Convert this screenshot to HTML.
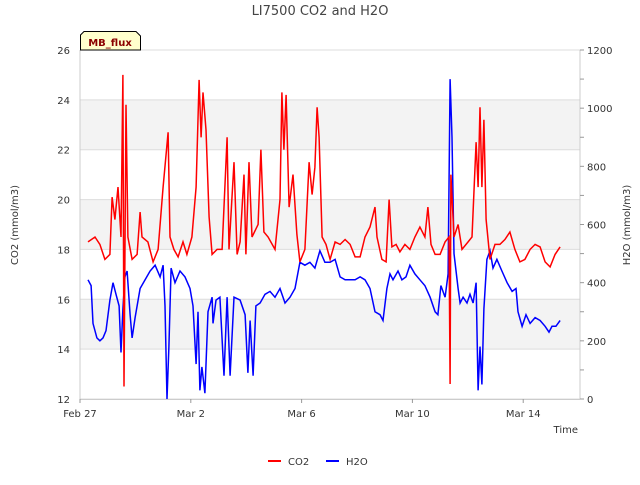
<!DOCTYPE html>
<html><head><meta charset="utf-8"><style>
body{margin:0;background:#fff;}
text{font-family:"DejaVu Sans","Liberation Sans",sans-serif;}
</style></head><body>
<svg id="chart" width="640" height="480" xmlns="http://www.w3.org/2000/svg">
<g id="grid"></g>
<g id="axes"></g>
<g id="series"></g>
<text x="320" y="15" text-anchor="middle" font-size="13" fill="#444">LI7500 CO2 and H2O</text>
<text transform="translate(18,225) rotate(-90)" text-anchor="middle" font-size="10" fill="#333">CO2 (mmol/m3)</text>
<text transform="translate(630,225) rotate(-90)" text-anchor="middle" font-size="10" fill="#333">H2O (mmol/m3)</text>
<text x="578" y="433" text-anchor="end" font-size="10" fill="#333">Time</text>
<g>
<path d="M80.5,50 L80.5,35 L84,31.5 L136,31.5 L140.5,36 L140.5,50 Z" fill="#ffffcc" stroke="#000" stroke-width="1"/>
<text x="110" y="46" text-anchor="middle" font-size="10" font-weight="bold" fill="#8b0000">MB_flux</text>
</g>
<g>
<line x1="268" y1="461" x2="281" y2="461" stroke="#f00" stroke-width="2"/>
<text x="288" y="465" font-size="10" fill="#333">CO2</text>
<line x1="326" y1="461" x2="339" y2="461" stroke="#00f" stroke-width="2"/>
<text x="346" y="465" font-size="10" fill="#333">H2O</text>
</g>
</svg>
<script>
const xTickLabels=["Feb 27","Mar 2","Mar 6","Mar 10","Mar 14"];
const xTickDays=[0,4,8,12,16];
const leftTicks=[12,14,16,18,20,22,24,26];
const rightTicks=[0,200,400,600,800,1000,1200];
const co2Days=[0.29,0.54,0.72,0.90,1.08,1.16,1.26,1.37,1.48,1.55,1.59,1.66,1.73,1.88,2.06,2.17,2.24,2.45,2.64,2.82,3.00,3.18,3.25,3.39,3.54,3.72,3.86,4.04,4.19,4.30,4.37,4.44,4.55,4.66,4.77,4.95,5.13,5.31,5.38,5.56,5.67,5.78,5.92,5.99,6.10,6.21,6.43,6.53,6.64,6.79,7.04,7.22,7.29,7.36,7.44,7.55,7.69,7.83,7.94,8.12,8.27,8.38,8.48,8.56,8.63,8.74,8.88,9.03,9.21,9.39,9.57,9.75,9.93,10.11,10.29,10.47,10.65,10.72,10.90,11.05,11.16,11.26,11.41,11.55,11.73,11.91,12.09,12.27,12.45,12.56,12.67,12.82,13.00,13.18,13.32,13.36,13.39,13.50,13.65,13.79,14.01,14.15,14.30,14.37,14.44,14.51,14.58,14.66,14.80,14.98,15.16,15.34,15.52,15.70,15.88,16.06,16.25,16.43,16.61,16.79,16.97,17.15,17.33];
const co2Values=[18.3,18.5,18.2,17.6,17.8,20.1,19.2,20.5,18.5,25,12.5,23.8,18.5,17.6,17.8,19.5,18.5,18.3,17.5,18,20.5,22.7,18.5,18,17.7,18.3,17.8,18.5,20.5,24.8,22.5,24.3,22.8,19.3,17.8,18,18,22.5,18,21.5,17.8,18.3,21,17.8,21.5,18.5,19,22,18.7,18.5,18,20,24.3,22,24.2,19.7,21,18.6,17.5,18,21.5,20.2,21.3,23.7,22.5,18.5,18.2,17.6,18.3,18.2,18.4,18.2,17.7,17.7,18.5,18.9,19.7,18.5,17.6,17.5,20,18.1,18.2,17.9,18.2,18,18.5,18.9,18.5,19.7,18.2,17.8,17.8,18.3,18.5,12.6,21,18.5,19,18,18.3,18.5,22.3,20.5,23.7,20.5,23.2,19.2,17.6,18.2,18.2,18.4,18.7,18,17.5,17.6,18,18.2,18.1,17.5,17.3,17.8,18.1];
const h2oDays=[0.29,0.40,0.47,0.61,0.72,0.83,0.94,1.08,1.19,1.30,1.41,1.48,1.55,1.62,1.70,1.81,1.88,1.99,2.17,2.35,2.53,2.71,2.89,3.00,3.07,3.14,3.21,3.29,3.43,3.61,3.79,3.97,4.08,4.19,4.26,4.33,4.40,4.51,4.62,4.77,4.80,4.91,5.05,5.20,5.31,5.42,5.56,5.78,5.96,6.06,6.14,6.25,6.35,6.50,6.68,6.86,7.04,7.22,7.40,7.58,7.76,7.94,8.12,8.30,8.48,8.66,8.84,9.03,9.21,9.39,9.57,9.75,9.93,10.11,10.29,10.47,10.65,10.83,10.94,11.08,11.19,11.30,11.48,11.62,11.77,11.91,12.09,12.27,12.45,12.64,12.82,12.92,13.03,13.18,13.29,13.36,13.43,13.50,13.65,13.72,13.83,13.97,14.08,14.19,14.30,14.37,14.44,14.51,14.58,14.69,14.80,14.91,15.05,15.23,15.42,15.60,15.74,15.81,15.96,16.10,16.25,16.43,16.61,16.79,16.93,17.04,17.18,17.33];
const h2oValues=[410,390,260,210,200,210,235,340,400,360,320,160,310,420,440,290,210,280,380,410,440,460,420,460,320,0,180,450,400,440,420,380,320,120,300,30,110,20,300,350,260,340,350,80,350,80,350,340,290,90,270,80,320,330,360,370,350,380,330,350,380,470,460,470,450,510,470,470,480,420,410,410,410,420,410,380,300,290,270,380,430,410,440,410,420,460,430,410,390,350,300,290,390,350,430,1100,900,500,380,330,350,330,360,330,400,30,180,50,310,480,510,450,480,440,400,370,380,300,250,290,260,280,270,250,230,250,250,270];

const X0=80,X1=580,Y0=399,Y1=50;
const xs=d=>X0+d*(X1-X0)/18.05;
const yl=v=>Y0-(v-12)*(Y0-Y1)/14;
const yr=v=>Y0-v*(Y0-Y1)/1200;
const NS="http://www.w3.org/2000/svg";
function mk(tag,attrs,parent){const e=document.createElementNS(NS,tag);for(const k in attrs)e.setAttribute(k,attrs[k]);parent.appendChild(e);return e;}
const grid=document.getElementById('grid'),axes=document.getElementById('axes'),series=document.getElementById('series');
for(let i=0;i<leftTicks.length-1;i++){
  if(i%2===1){const b=mk('rect',{x:X0,y:yl(leftTicks[i+1]),width:X1-X0,height:yl(leftTicks[i])-yl(leftTicks[i+1]),fill:'#f3f3f3'},grid);
  
  }
}
leftTicks.forEach(v=>{
  const l=mk('line',{x1:X0,x2:X1,y1:yl(v),y2:yl(v),stroke:'#ddd','stroke-width':1},grid);
  
  
  const t=mk('text',{x:70,y:yl(v)+4,'text-anchor':'end','font-size':10,fill:'#333'},axes);t.textContent=v;
  
  
});
mk('line',{x1:X0,x2:X0,y1:Y1,y2:Y0,stroke:'#ccc'},axes);
mk('line',{x1:X1,x2:X1,y1:Y1,y2:Y0,stroke:'#ccc'},axes);
mk('line',{x1:X0,x2:X1,y1:Y0+0.5,y2:Y0+0.5,stroke:'#ccc'},axes);
for(let v=0;v<=1200;v+=100){
  mk('line',{x1:X1,x2:X1+4,y1:yr(v),y2:yr(v),stroke:'#999'},axes);
}
rightTicks.forEach(v=>{
  const t=mk('text',{x:587,y:yr(v)+4,'font-size':10,fill:'#333'},axes);t.textContent=v;
  
  
});
xTickDays.forEach((d,i)=>{
  mk('line',{x1:xs(d),x2:xs(d),y1:Y0,y2:Y0+4,stroke:'#999'},axes);
  const t=mk('text',{x:xs(d),y:417,'text-anchor':'middle','font-size':10,fill:'#333'},axes);t.textContent=xTickLabels[i];
  
  
});
const h=mk('polyline',{points:h2oDays.map((d,i)=>xs(d).toFixed(1)+','+yr(h2oValues[i]).toFixed(1)).join(' '),fill:'none',stroke:'#00f','stroke-width':1.5},series);


const c=mk('polyline',{points:co2Days.map((d,i)=>xs(d).toFixed(1)+','+yl(co2Values[i]).toFixed(1)).join(' '),fill:'none',stroke:'#f00','stroke-width':1.5},series);


</script>
</body></html>
